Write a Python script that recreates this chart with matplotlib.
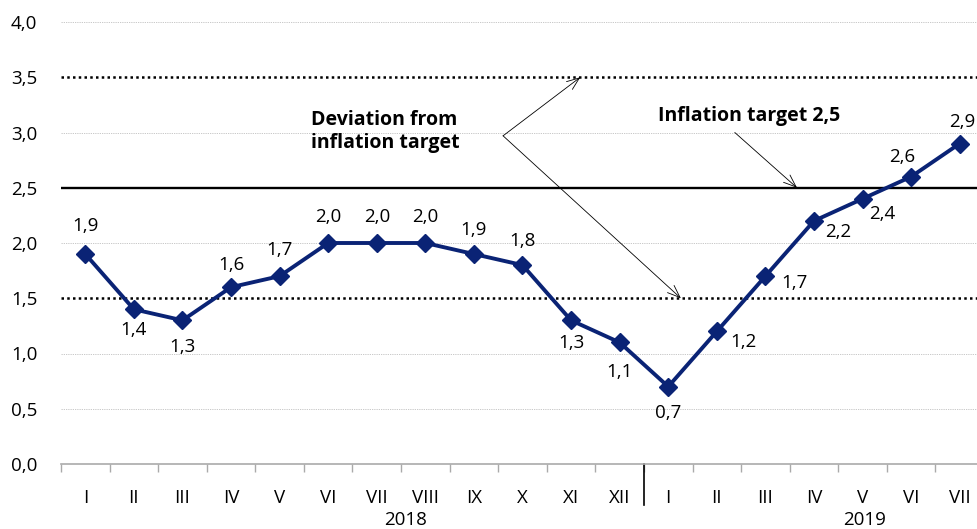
import matplotlib
matplotlib.use("Agg")
import matplotlib.pyplot as plt
from matplotlib.lines import Line2D

plt.rcParams['font.family'] = ['Open Sans', 'DejaVu Sans']

months = ["I", "II", "III", "IV", "V", "VI", "VII", "VIII", "IX", "X", "XI", "XII",
          "I", "II", "III", "IV", "V", "VI", "VII"]
values = [1.9, 1.4, 1.3, 1.6, 1.7, 2.0, 2.0, 2.0, 1.9, 1.8, 1.3, 1.1,
          0.7, 1.2, 1.7, 2.2, 2.4, 2.6, 2.9]
years = ["2018", "2019"]
target = 2.5
band = [1.5, 3.5]
yticks = [0.0, 0.5, 1.0, 1.5, 2.0, 2.5, 3.0, 3.5, 4.0]

# label offsets in pixels (dx, dy) relative to the point
offsets = [(0, 28), (0, -21), (0, -27), (0, 22), (0, 26), (0, 26), (0, 26), (0, 26),
           (0, 24), (0, 24), (0, -23), (0, -30), (0, -26), (27, -11), (29, -7),
           (24, -11), (20, -15), (-9, 20), (3, 22)]

W, H = 978, 529
fig = plt.figure(figsize=(W / 100, H / 100), dpi=100)
ax = fig.add_axes([61 / W, (529 - 464) / H, (984 - 61) / W, (464 - 22) / H])

x = list(range(len(values)))
navy = '#0a2375'
fs = 13.5

# grid lines
for yv in yticks:
    if yv in band or yv == target or yv == 0.0:
        continue
    ax.axhline(yv, color='#c0c0c0', lw=0.6, ls=(0, (1.5, 1.2)), zorder=1)
for yv in band:
    ax.axhline(yv, color='black', lw=1.8, ls=(0, (1, 1.3)), zorder=2)
ax.axhline(target, color='black', lw=1.7, zorder=2)

ax.plot(x, values, color=navy, lw=2.8, marker='D', markersize=9, zorder=4,
        solid_joinstyle='miter')

for xi, v, (dx, dy) in zip(x, values, offsets):
    ax.annotate(f"{v:.1f}".replace('.', ','), (xi, v), xytext=(dx, dy),
                textcoords='offset pixels', ha='center', va='center', fontsize=fs,
                zorder=5)

ax.set_xlim(-0.5, len(values) - 0.5)
ax.set_ylim(0, 4.0)
ax.set_yticks(yticks)
ax.set_yticklabels([f"{t:.1f}".replace('.', ',') for t in yticks], fontsize=fs)
ax.tick_params(axis='y', length=0, pad=17)
ax.set_xticks(x)
ax.set_xticklabels(months, fontsize=fs)
ax.tick_params(axis='x', which='major', length=0, pad=18)
ax.set_xticks([i - 0.5 for i in range(len(values) + 1)], minor=True)
ax.tick_params(axis='x', which='minor', length=6, color='#aaaaaa', width=1, direction='out')

for s in ['top', 'right', 'left']:
    ax.spines[s].set_visible(False)
ax.spines['bottom'].set_color('#aaaaaa')
ax.spines['bottom'].set_linewidth(1.2)

# year separator
trans = ax.get_xaxis_transform()
ax.add_line(Line2D([11.5, 11.5], [0, -41 / 442], transform=trans, color='black',
                   lw=1.2, clip_on=False))
ax.text(6.6, -56 / 442, years[0], transform=trans, ha='center', va='center', fontsize=fs)
ax.text(16.05, -56 / 442, years[1], transform=trans, ha='center', va='center', fontsize=fs)

# annotations
ax.text(4.65, 3.01, "Deviation from\ninflation target", fontsize=14, fontweight='bold',
        ha='left', va='center', linespacing=1.15, zorder=6)
ax.text(11.79, 3.15, "Inflation target 2,5", fontsize=14, fontweight='bold',
        ha='left', va='center', zorder=6)

arrow = dict(arrowstyle='->,head_length=0.9,head_width=0.35', lw=0.6, color='black',
             shrinkA=0, shrinkB=0)
ax.annotate('', xy=(10.19, 3.5), xytext=(8.6, 2.97), arrowprops=arrow, zorder=6)
ax.annotate('', xy=(12.26, 1.5), xytext=(8.6, 2.97), arrowprops=arrow, zorder=6)
ax.annotate('', xy=(14.65, 2.5), xytext=(13.37, 3.0), arrowprops=arrow, zorder=6)

fig.savefig("out.png", dpi=100)
